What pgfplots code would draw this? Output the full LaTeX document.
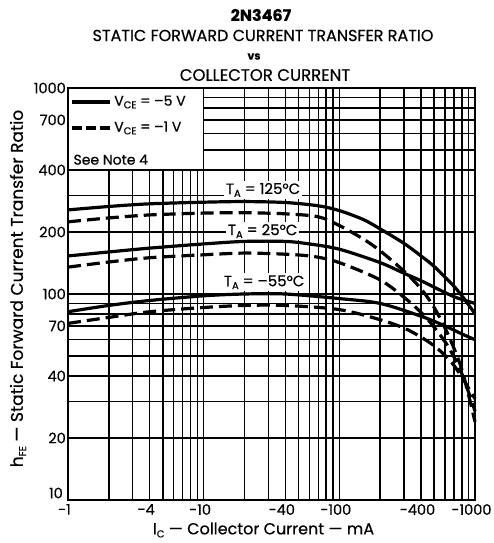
\documentclass[border=0pt]{standalone}
\usepackage{fontspec}
\setmainfont{Poppins}[FakeBold=0.5]
\usepackage{pgfplots}
\pgfplotsset{compat=1.18}
\newcommand{\sub}[1]{\raisebox{-0.35ex}{\fontsize{10}{10}\selectfont #1}}
\newcommand{\fs}[1]{\fontsize{#1}{#1}\selectfont}
\begin{document}
\begin{tikzpicture}[x=1pt,y=1pt]
\useasboundingbox (-68,-43) rectangle (425,500);
\begin{axis}[
    at={(0,0)}, anchor=south west,
    scale only axis, width=407pt, height=412pt,
    xmode=log, ymode=log,
    xmin=1, xmax=1000, ymin=10, ymax=1000,
    xtick={1,4,10,40,100,400,1000},
    xticklabels={-1,-4,-10,-40,-100,-400,-1000},
    ytick={10,20,40,70,100,200,400,700,1000},
    yticklabels={,20,40,70,100,200,400,700,1000},
    minor xtick={2,3,5,6,7,8,9,20,30,50,60,70,80,90,200,300,500,600,700,800,900},
    minor ytick={30,50,60,80,90,300,500,600,800,900},
    grid=both,
    major grid style={black, line width=1.4pt},
    minor grid style={black, line width=1.4pt},
    axis line style={line width=2.6pt},
    tick style={draw=none},
    ticklabel style={font=\fs{14.5}, inner sep=1pt},
    xticklabel style={yshift=-3pt, xshift=-3.5pt, text depth=0pt},
    yticklabel style={xshift=-1pt},
    clip=false,
]
% legend box
\fill[white] (axis cs:1,400) rectangle (axis cs:10,1000);
\draw[line width=1.4pt] (axis cs:1,400) -- (axis cs:10,400) -- (axis cs:10,1000);
\draw[line width=3.2pt] (axis description cs:0.009,0.966) -- (axis description cs:0.103,0.966);
\draw[line width=3.2pt, dash pattern=on 10pt off 4pt] (axis description cs:0.009,0.903) -- (axis description cs:0.103,0.903);
\node[anchor=west, font=\fs{14}] at (axis description cs:0.105,0.966) {V\sub{CE} = –5 V};
\node[anchor=west, font=\fs{14}] at (axis description cs:0.105,0.903) {V\sub{CE} = –1 V};
\node[anchor=west, font=\fs{14}] at (axis description cs:0.005,0.826) {See Note 4};
% temperature labels
\node[fill=white, inner sep=2pt, font=\fs{15}] at (axis cs:27.4,320) {T\sub{A} = 125°C};
\node[fill=white, inner sep=2pt, font=\fs{15}] at (axis cs:27.2,202) {T\sub{A} = 25°C};
\node[fill=white, inner sep=2pt, font=\fs{15}] at (axis cs:27.9,114) {T\sub{A} = –55°C};
% T_A = 125 C
\addplot[line width=3.2pt, smooth] coordinates {
 (1,256) (2,266) (4,274) (10,279) (20,281) (40,278) (70,268) (100,254) (150,230) (200,207)
 (300,176) (400,153) (500,136) (700,109) (850,93) (1000,80)};
\addplot[line width=3.2pt, smooth, dash pattern=on 13pt off 6pt] coordinates {
 (1,224) (2,234) (4,242) (10,247) (20,248) (40,245) (70,237) (100,215) (150,185) (200,162)
 (300,129) (400,106) (500,86) (630,64) (800,43) (1000,24)};
% T_A = 25 C
\addplot[line width=3.2pt, smooth] coordinates {
 (1,153) (2,160) (4,167) (10,175) (20,180) (40,180) (60,175) (100,165) (200,142) (300,126)
 (400,116) (560,104) (700,97) (850,93) (1000,90)};
\addplot[line width=3.2pt, smooth, dash pattern=on 13pt off 6pt] coordinates {
 (1,135) (2,143) (4,150) (10,155) (20,158) (40,156) (65,152) (100,142) (200,117) (320,93)
 (450,75) (630,56) (800,41) (1000,27)};
% T_A = -55 C
\addplot[line width=3.2pt, smooth] coordinates {
 (1,82) (2,88) (4,93) (10,98) (20,100) (40,100) (100,95) (200,90) (400,78) (600,70)
 (800,64) (1000,60)};
\addplot[line width=3.2pt, smooth, dash pattern=on 13pt off 6pt] coordinates {
 (1,72) (2,77) (4,82) (10,86) (20,88) (40,88) (100,84) (200,75) (320,67) (500,56)
 (700,45) (1000,31)};
\draw[line width=2.6pt] (rel axis cs:0,0) rectangle (rel axis cs:1,1);
\end{axis}
% the lowest y tick label sits a little above its line, as in the original
\node[font=\fs{14.5}, anchor=east, inner sep=1pt] at (-4,7) {10};
% titles and axis labels
\node[font=\fs{16}\bfseries] at (193,485) {2N3467};
\node[font=\fs{16}] at (195,464.5) {STATIC FORWARD CURRENT TRANSFER RATIO};
\node[font=\fs{11}\bfseries] at (186,443.5) {vs};
\node[font=\fs{16.5}] at (197,425) {COLLECTOR CURRENT};
\node[font=\fs{16}] at (195.5,-30) {I\sub{C} — Collector Current — mA};
\node[font=\fs{17}, rotate=90] at (-50,211.5) {h\sub{FE} — Static Forward Current Transfer Ratio};
\end{tikzpicture}
\end{document}
